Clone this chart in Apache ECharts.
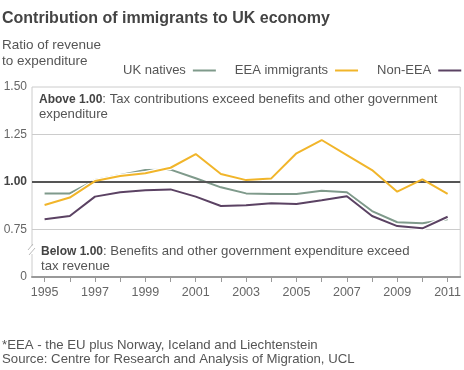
<!DOCTYPE html>
<html>
<head>
<meta charset="utf-8">
<script src="https://cdn.jsdelivr.net/npm/echarts@6/dist/echarts.min.js"></script>
<style>
html,body{margin:0;padding:0;background:#fff;}
#c{width:464px;height:370px;}
</style>
</head>
<body>
<div id="c"></div>
<script>
var years = ['1995','1996','1997','1998','1999','2000','2001','2002','2003','2004','2005','2006','2007','2008','2009','2010','2011'];
var ukNatives = [0.94,0.94,1.01,1.037,1.063,1.065,1.02,0.972,0.94,0.937,0.937,0.954,0.946,0.847,0.788,0.783,0.804];
var eeaImmigrants = [0.879,0.918,1.005,1.032,1.046,1.075,1.147,1.042,1.01,1.019,1.151,1.221,1.142,1.063,0.949,1.014,0.937];
var nonEea = [0.804,0.821,0.923,0.946,0.956,0.961,0.923,0.874,0.877,0.888,0.884,0.904,0.925,0.821,0.768,0.756,0.817];
var yTickValues = [0.5,0.75,1.0,1.25,1.5];
var yTickLabels = ['0','0.75','1.00','1.25','1.50'];
var seriesNames = ['UK natives','EEA immigrants','Non-EEA'];
var colors = ['#7f9a8b','#f1b52a','#5b4263'];

var chart = echarts.init(document.getElementById('c'), null, {renderer:'canvas'});
var FONT = 'Liberation Sans, Arial, sans-serif';
function lineSeries(name, data, color, z){
  return {name:name, type:'line', data:data, symbol:'none', z:z,
    lineStyle:{color:color, width:2}, itemStyle:{color:color}, animation:false};
}
function haloSeries(data, z){
  return {type:'line', data:data, symbol:'none', z:z, silent:true,
    lineStyle:{color:'#fff', width:4.5}, animation:false, legendHoverLink:false, tooltip:{show:false}};
}
var option = {
  backgroundColor:'#fff',
  animation:false,
  textStyle:{fontFamily:FONT},
  title:[
    {text:'Contribution of immigrants to UK economy', left:2, top:11, padding:0,
     textStyle:{fontFamily:FONT, fontSize:16, fontWeight:'bold', color:'#444'}},
    {text:'Ratio of revenue\nto expenditure', left:2, top:37, padding:0,
     textStyle:{fontFamily:FONT, fontSize:13.5, fontWeight:'normal', color:'#555', lineHeight:16}}
  ],
  legend:{
    data:seriesNames, left:123, top:64, width:341, padding:0, align:'right', itemGap:19,
    itemWidth:23, itemHeight:2, icon:'rect',
    textStyle:{fontFamily:FONT, fontSize:13, color:'#555', padding:[0,2,0,0]}
  },
  grid:{left:32, right:2, top:87, bottom:93, show:true, borderColor:'#ccc', borderWidth:1},
  xAxis:{
    type:'category', data:years, boundaryGap:true,
    axisLine:{show:true, lineStyle:{color:'#999', width:2}},
    axisTick:{show:true, interval:0, alignWithLabel:true, length:5, lineStyle:{color:'#999'}},
    axisLabel:{interval:1, color:'#666', fontSize:12.5, fontFamily:FONT, margin:9}
  },
  yAxis:{
    type:'value', min:0.5, max:1.5, interval:0.25,
    axisLine:{show:false}, axisTick:{show:false},
    splitLine:{show:true, showMinLine:false, showMaxLine:false, lineStyle:{color:'#ccc', width:1}},
    axisLabel:{color:'#666', fontSize:12, fontFamily:FONT, margin:5,
      formatter:function(v){
        var i = yTickValues.indexOf(Math.round(v*100)/100);
        var t = i>=0 ? yTickLabels[i] : '';
        return t==='1.00' ? '{b|'+t+'}' : t;
      },
      rich:{b:{fontWeight:'bold', color:'#444', fontSize:12, fontFamily:FONT}}
    }
  },
  graphic:[
    {type:'text', left:39, top:92, z:10,
     style:{text:'{b|Above 1.00}: Tax contributions exceed benefits and other government\nexpenditure',
       fill:'#555', font:'13.2px '+FONT, lineHeight:15,
       rich:{b:{fontWeight:'bold', fill:'#444', font:'bold 13.2px '+FONT}}}},
    {type:'text', left:41, top:244, z:10,
     style:{text:'{b|Below 1.00}: Benefits and other government expenditure exceed\ntax revenue',
       fill:'#555', font:'13.2px '+FONT, lineHeight:15,
       rich:{b:{fontWeight:'bold', fill:'#444', font:'bold 13.2px '+FONT}}}},
    {type:'rect', shape:{x:29, y:246, width:6, height:8}, style:{fill:'#fff'}, z:20},
    {type:'line', shape:{x1:28, y1:250, x2:33, y2:244}, style:{stroke:'#bbb', lineWidth:1}, z:21},
    {type:'line', shape:{x1:29, y1:255, x2:35, y2:248}, style:{stroke:'#bbb', lineWidth:1}, z:21},
    {type:'text', left:2, top:338,
     style:{text:'*EEA - the EU plus Norway, Iceland and Liechtenstein\nSource: Centre for Research and Analysis of Migration, UCL',
       fill:'#555', font:'13.2px '+FONT, lineHeight:14}}
  ],
  series:[
    Object.assign(lineSeries(seriesNames[0], ukNatives, colors[0], 3), {
      markLine:{silent:true, symbol:'none', label:{show:false},
        lineStyle:{color:'#555', width:2, type:'solid'}, data:[{yAxis:1}]}
    }),
    lineSeries(seriesNames[1], eeaImmigrants, colors[1], 5),
    lineSeries(seriesNames[2], nonEea, colors[2], 7),
    haloSeries(ukNatives, 2),
    haloSeries(eeaImmigrants, 4),
    haloSeries(nonEea, 6)
  ]
};
chart.setOption(option);
</script>
</body>
</html>
